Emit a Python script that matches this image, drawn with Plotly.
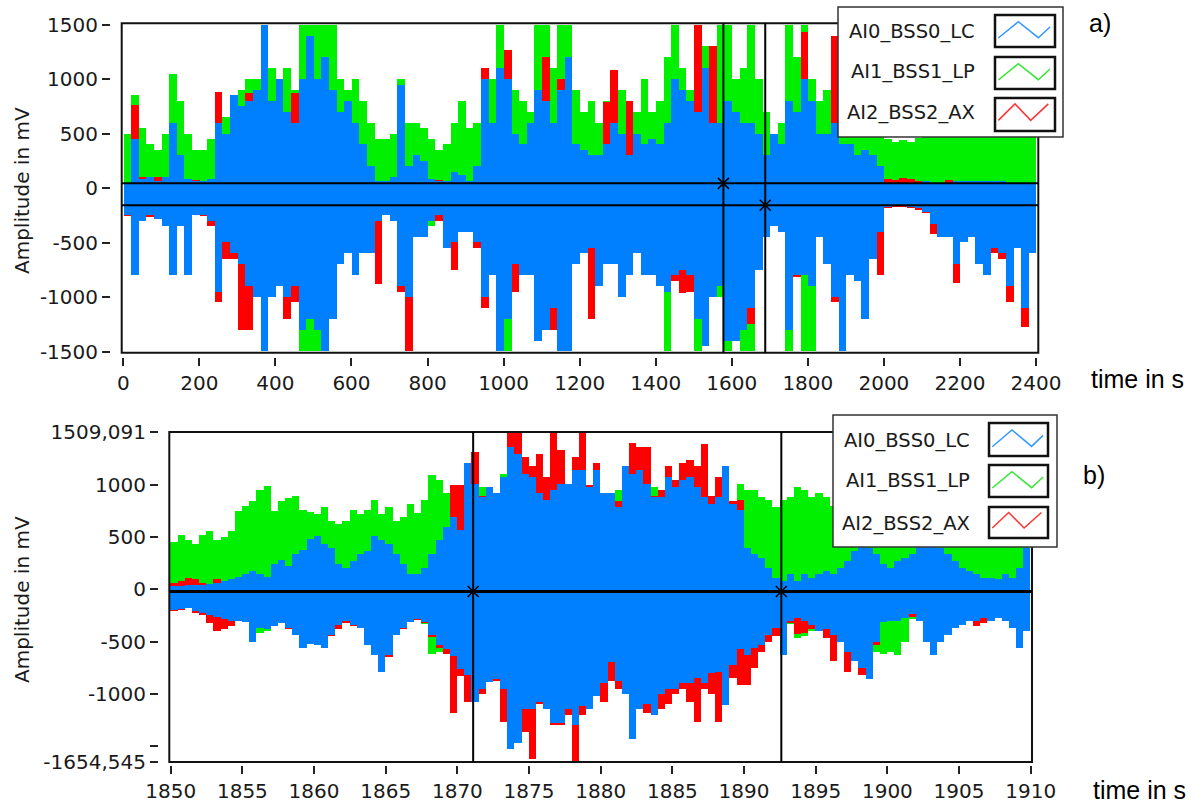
import plotly.graph_objects as go

W, H = 1195, 807

# ---------------- chart a) : 0..2400 s, envelope samples every 20 s ----------------
A_T0, A_STEP, A_N = 10, 20, 120
a_time = [A_T0 + A_STEP * i for i in range(A_N)]

a_green_up = [
    500, 850, 550, 400, 350, 500, 1050, 800, 500, 350,
    350, 450, 700, 650, 750, 900, 1000, 1000, 1500, 1100,
    1000, 1100, 900, 1500, 1500, 1500, 1500, 1500, 1000, 900,
    1000, 800, 600, 450, 450, 500, 1000, 600, 600, 550,
    450, 350, 400, 600, 800, 550, 600, 850, 1000, 1500,
    1200, 900, 800, 700, 1500, 1500, 1100, 1500, 1500, 900,
    700, 800, 600, 800, 1000, 900, 700, 700, 1000, 700,
    800, 1200, 1500, 1100, 900, 1500, 1300, 1200, 1500, 1500,
    1000, 1100, 1500, 1000, 700, 500, 600, 1500, 1200, 1500,
    1000, 800, 900, 600, 700, 700, 700, 700, 600, 600,
    450, 420, 440, 420, 460, 550, 600, 500, 600, 600,
    600, 700, 600, 500, 600, 600, 500, 500, 600, 500,
]
a_blue_up = [
    50, 450, 80, 100, 60, 100, 600, 300, 80, 60,
    60, 80, 600, 500, 850, 750, 800, 900, 1500, 800,
    1000, 700, 600, 1000, 1400, 1000, 1200, 900, 700, 800,
    600, 400, 200, 60, 60, 100, 950, 200, 300, 250,
    80, 60, 60, 150, 120, 60, 200, 1000, 600, 1100,
    1000, 500, 400, 600, 900, 800, 600, 900, 1200, 400,
    350, 300, 300, 400, 600, 500, 300, 500, 400, 450,
    400, 600, 1000, 900, 800, 700, 1100, 600, 600, 800,
    700, 600, 600, 500, 300, 500, 400, 800, 700, 1000,
    800, 500, 500, 600, 400, 400, 300, 350, 300, 200,
    50, 50, 50, 50, 50, 60, 50, 50, 50, 60,
    60, 60, 60, 60, 60, 60, 50, 50, 50, 50,
]
a_red_up = [
    40, 760, 100, 100, 100, 60, 60, 60, 70, 70,
    50, 60, 880, 400, 600, 500, 870, 600, 800, 600,
    800, 600, 870, 800, 900, 900, 800, 700, 600, 600,
    500, 300, 150, 50, 50, 50, 500, 150, 150, 70,
    70, 70, 50, 100, 100, 50, 150, 1100, 500, 900,
    1265, 450, 350, 500, 800, 1200, 600, 1000, 900, 350,
    300, 250, 250, 790, 1080, 450, 800, 450, 350, 400,
    350, 500, 900, 800, 700, 1500, 1000, 1300, 500, 700,
    600, 500, 500, 400, 250, 400, 300, 700, 600, 1430,
    700, 400, 400, 1400, 300, 250, 200, 200, 150, 100,
    80, 70, 90, 80, 60, 40, 40, 40, 70, 40,
    40, 40, 40, 40, 40, 40, 40, 40, 40, 40,
]
a_blue_lo = [
    -250, -800, -300, -250, -280, -350, -800, -350, -800, -250,
    -250, -300, -950, -500, -600, -700, -900, -1000, -1500, -1000,
    -900, -1000, -900, -1300, -1200, -1300, -1500, -1200, -700, -600,
    -800, -600, -600, -300, -250, -300, -900, -1000, -450, -450,
    -300, -250, -550, -500, -400, -400, -500, -1000, -800, -1500,
    -1200, -700, -800, -800, -1400, -1300, -1100, -1500, -1500, -700,
    -600, -550, -900, -700, -700, -1000, -800, -600, -800, -800,
    -900, -950, -800, -750, -800, -1200, -1450, -1000, -900, -1400,
    -1400, -1300, -1100, -750, -450, -350, -400, -1300, -800, -800,
    -900, -450, -700, -1000, -1500, -800, -850, -1200, -650, -400,
    -170, -160, -160, -170, -180, -220, -330, -450, -450, -700,
    -500, -450, -700, -800, -550, -600, -900, -550, -1100, -600,
]
a_green_lo = [
    -250, -350, -250, -230, -230, -300, -500, -300, -400, -220,
    -230, -280, -600, -400, -650, -700, -900, -900, -1200, -900,
    -800, -800, -800, -1500, -1500, -1500, -1500, -1000, -700, -600,
    -700, -600, -600, -300, -230, -300, -500, -500, -400, -400,
    -350, -250, -300, -300, -300, -300, -450, -800, -800, -1500,
    -1500, -700, -700, -700, -1300, -1200, -1000, -1500, -1500, -600,
    -500, -500, -600, -700, -700, -900, -700, -500, -700, -600,
    -800, -1500, -800, -700, -750, -1500, -1200, -900, -1000, -1500,
    -1300, -1500, -1500, -700, -400, -330, -400, -1500, -800, -1500,
    -1500, -400, -500, -700, -1200, -700, -700, -700, -600, -350,
    -170, -160, -160, -170, -180, -220, -300, -400, -400, -600,
    -400, -400, -500, -500, -500, -500, -800, -500, -700, -500,
]
a_red_lo = [
    -260, -700, -300, -270, -280, -300, -800, -350, -300, -230,
    -260, -350, -1050, -650, -650, -1300, -1300, -800, -1000, -960,
    -900, -1200, -1050, -1000, -1100, -1000, -1500, -800, -600, -550,
    -700, -550, -500, -880, -250, -250, -950, -1500, -450, -450,
    -300, -300, -450, -750, -400, -400, -550, -1100, -800, -1100,
    -1000, -950, -550, -600, -1100, -900, -1300, -1300, -900, -600,
    -600, -1200, -700, -700, -650, -700, -800, -600, -800, -600,
    -850, -900, -850, -960, -950, -900, -1300, -950, -850, -1000,
    -1100, -1000, -1250, -700, -420, -340, -380, -1000, -820, -800,
    -900, -450, -650, -1050, -1200, -750, -800, -800, -650, -800,
    -180, -170, -170, -180, -200, -230, -420, -450, -450, -870,
    -480, -450, -650, -700, -600, -650, -1050, -550, -1280, -550,
]

# ---------------- chart b) : 1850..1910 s, envelope samples every 0.5 s ----------------
B_T0, B_STEP, B_N = 1850.25, 0.5, 120
b_time = [B_T0 + B_STEP * i for i in range(B_N)]

b_green_up = [
    450, 520, 470, 440, 520, 560, 470, 500, 560, 750,
    800, 850, 950, 990, 750, 850, 880, 900, 760, 740,
    725, 790, 660, 630, 660, 760, 725, 760, 855, 725,
    790, 660, 690, 820, 730, 860, 1100, 1050, 920, 890,
    920, 920, 950, 985, 985, 920, 1110, 1275, 1240, 1145,
    1050, 985, 890, 890, 985, 985, 1145, 1110, 920, 1180,
    890, 890, 950, 1050, 1015, 985, 1015, 985, 890, 1110,
    950, 855, 985, 890, 890, 890, 855, 920, 820, 1015,
    950, 950, 890, 855, 790, 855, 890, 985, 950, 890,
    920, 890, 800, 750, 700, 700, 750, 700, 650, 700,
    700, 650, 650, 600, 650, 700, 800, 750, 700, 650,
    600, 600, 550, 550, 600, 550, 500, 550, 500, 500,
]
b_blue_up = [
    30, 30, 40, 40, 40, 50, 60, 80, 100, 120,
    150, 180, 150, 120, 240, 280, 220, 340, 380, 480,
    515, 435, 400, 240, 210, 275, 340, 370, 515, 470,
    440, 340, 240, 150, 150, 210, 340, 470, 600, 690,
    565, 1210, 1015, 890, 985, 920, 1080, 1370, 1300, 1110,
    1080, 920, 855, 950, 1015, 1015, 1145, 1145, 985, 1145,
    920, 920, 790, 1180, 1110, 1145, 1015, 890, 890, 1080,
    985, 1050, 1080, 985, 890, 820, 890, 1180, 820, 760,
    400, 340, 305, 210, 110, 80, 145, 80, 145, 110,
    145, 180, 145, 210, 275, 370, 435, 400, 340, 240,
    210, 275, 305, 340, 435, 435, 470, 400, 340, 275,
    210, 180, 145, 110, 110, 100, 145, 110, 210, 400,
]
b_red_up = [
    60, 80, 110, 100, 60, 40, 100, 40, 40, 40,
    100, 130, 100, 80, 200, 230, 180, 300, 330, 420,
    450, 400, 350, 200, 180, 230, 300, 330, 450, 420,
    400, 300, 200, 130, 130, 180, 300, 420, 550, 1000,
    1000, 900, 1320, 900, 850, 850, 950, 1509, 1509, 1270,
    1180, 1300, 1080, 1509, 1340, 1000, 1270, 1509, 1000, 1210,
    920, 890, 850, 1000, 1400, 1370, 1370, 900, 950, 1180,
    1050, 1210, 1240, 1180, 1390, 900, 1080, 1000, 850, 860,
    350, 300, 250, 180, 80, 60, 100, 60, 100, 80,
    100, 130, 100, 160, 220, 320, 380, 350, 290, 190,
    160, 220, 250, 290, 380, 380, 420, 350, 290, 220,
    160, 130, 100, 80, 80, 70, 100, 80, 160, 350,
]
b_blue_lo = [
    -200, -190, -180, -210, -230, -250, -260, -280, -300, -300,
    -310, -500, -370, -380, -350, -320, -370, -440, -560, -520,
    -530, -565, -435, -340, -305, -340, -370, -530, -630, -790,
    -630, -440, -370, -310, -280, -310, -440, -530, -570, -640,
    -760, -820, -1080, -950, -885, -855, -950, -1530, -1470, -1145,
    -1150, -1080, -1150, -1280, -1280, -1150, -1300, -1120, -1150, -1020,
    -900, -700, -880, -1000, -1430, -1150, -1100, -1200, -1000, -950,
    -950, -900, -900, -850, -900, -800, -790, -1110, -720, -570,
    -630, -565, -530, -435, -370, -630, -305, -275, -305, -340,
    -400, -380, -440, -500, -600, -690, -750, -855, -500, -310,
    -305, -305, -275, -240, -305, -500, -630, -500, -435, -370,
    -340, -305, -305, -275, -305, -275, -305, -370, -565, -400,
]
b_green_lo = [
    -200, -190, -180, -210, -230, -250, -260, -280, -300, -300,
    -300, -380, -420, -400, -330, -300, -320, -380, -420, -420,
    -450, -480, -420, -330, -300, -330, -350, -460, -560, -650,
    -600, -420, -360, -300, -280, -330, -620, -600, -520, -600,
    -750, -800, -1000, -900, -850, -850, -900, -1000, -1000, -1000,
    -1000, -1000, -1000, -1100, -1100, -1000, -1100, -1000, -1000, -900,
    -850, -700, -850, -900, -900, -900, -950, -950, -900, -900,
    -900, -850, -850, -820, -850, -780, -750, -800, -700, -550,
    -600, -550, -500, -420, -360, -350, -330, -470, -450, -400,
    -400, -370, -370, -370, -440, -370, -370, -370, -600, -620,
    -600, -630, -500, -280, -300, -450, -550, -450, -400, -340,
    -320, -290, -290, -260, -290, -260, -290, -350, -500, -380,
]
b_red_lo = [
    -210, -200, -180, -230, -250, -320, -400, -380, -350, -300,
    -300, -350, -350, -360, -330, -300, -380, -420, -450, -450,
    -500, -520, -450, -380, -320, -350, -360, -480, -560, -700,
    -650, -420, -380, -310, -290, -320, -460, -560, -620, -1180,
    -830, -1080, -950, -1000, -880, -880, -1270, -1340, -1300, -1370,
    -1630, -1100, -1150, -1300, -1300, -1200, -1650, -1200, -1100, -900,
    -1080, -880, -950, -950, -950, -1000, -1180, -1200, -1150, -1100,
    -1000, -950, -1080, -1270, -950, -1000, -1270, -830, -850, -920,
    -920, -750, -600, -500, -450, -380, -320, -430, -420, -380,
    -360, -470, -690, -430, -790, -630, -820, -630, -530, -300,
    -300, -300, -270, -260, -300, -450, -550, -450, -400, -340,
    -330, -300, -350, -320, -300, -270, -300, -360, -520, -390,
]

# cursors
cursor_a_x = [1578, 1688]
cursor_a_y = [46, -155]
cursor_b_x = [1871.1, 1892.6]
cursor_b_y = [-20, -20]

series_names = ["AI0_BSS0_LC", "AI1_BSS1_LP", "AI2_BSS2_AX"]
C_BLUE, C_GREEN, C_RED = "#0080FF", "#00F000", "#FF0000"

a_xticks = list(range(0, 2401, 200))
a_yticks = [-1500, -1000, -500, 0, 500, 1000, 1500]
b_xticks = list(range(1850, 1911, 5))
b_yticks = [-1654.545, -1500, -1000, -500, 0, 500, 1000, 1509.091]
b_yticktext = ["-1654,545", "", "-1000", "-500", "0", "500", "1000", "1509,091"]

TXT = "#1a1a1a"
TICKFONT = dict(family="DejaVu Sans", size=20, color=TXT)


def PX(x):
    return x / W


def PY(y):
    return 1 - y / H


fig = go.Figure()


def add_env(t, lo, up, color, step, xa, ya):
    fig.add_trace(go.Bar(
        x=t, y=[u - l for u, l in zip(up, lo)], base=lo, width=step,
        marker=dict(color=color, line=dict(width=0)), showlegend=False,
        hoverinfo="skip", xaxis=xa, yaxis=ya))


# draw order: green (bottom), red, blue (top)
add_env(a_time, a_green_lo, a_green_up, C_GREEN, A_STEP, "x", "y")
add_env(a_time, a_red_lo, a_red_up, C_RED, A_STEP, "x", "y")
add_env(a_time, a_blue_lo, a_blue_up, C_BLUE, A_STEP, "x", "y")
add_env(b_time, b_green_lo, b_green_up, C_GREEN, B_STEP, "x2", "y2")
add_env(b_time, b_red_lo, b_red_up, C_RED, B_STEP, "x2", "y2")
add_env(b_time, b_blue_lo, b_blue_up, C_BLUE, B_STEP, "x2", "y2")

mk = dict(symbol="x-thin", size=11, color="black", line=dict(width=1.6, color="black"))
fig.add_trace(go.Scatter(x=cursor_a_x, y=cursor_a_y, mode="markers", marker=mk,
                         showlegend=False, xaxis="x", yaxis="y", cliponaxis=False))
fig.add_trace(go.Scatter(x=cursor_b_x, y=cursor_b_y, mode="markers", marker=mk,
                         showlegend=False, xaxis="x2", yaxis="y2", cliponaxis=False))

axis_common = dict(showgrid=False, zeroline=False, showline=False, ticks="outside",
                   ticklen=8, tickwidth=1.5, tickcolor="#222", tickfont=TICKFONT,
                   anchor="free", fixedrange=True, automargin=False)

fig.update_layout(
    width=W, height=H, autosize=False,
    margin=dict(l=0, r=0, t=0, b=0, pad=0),
    paper_bgcolor="white", plot_bgcolor="white",
    barmode="overlay", bargap=0,
    showlegend=False,
    xaxis=dict(domain=[PX(121.7), PX(1038.3)], range=[-4.2, 2406],
               tickvals=a_xticks, ticktext=[str(v) for v in a_xticks],
               position=PY(357), **axis_common),
    yaxis=dict(domain=[PY(352.7), PY(23.3)], range=[-1509, 1515],
               tickvals=a_yticks, ticktext=[str(v) for v in a_yticks],
               position=PX(110), **axis_common),
    xaxis2=dict(domain=[PX(169.3), PX(1032)], range=[1849.9, 1910.09],
                tickvals=b_xticks, ticktext=[str(v) for v in b_xticks],
                position=PY(765), **axis_common),
    yaxis2=dict(domain=[PY(762), PY(432)], range=[-1654.545, 1509.091],
                tickvals=b_yticks, ticktext=b_yticktext,
                position=PX(158), **axis_common),
)

shapes = []
# plot frames
for xr, yr in (("x domain", "y domain"), ("x2 domain", "y2 domain")):
    shapes.append(dict(type="rect", xref=xr, yref=yr, x0=0, x1=1, y0=0, y1=1,
                       line=dict(color="#111", width=2), layer="above"))
# cursor lines
for cx in cursor_a_x:
    shapes.append(dict(type="line", xref="x", yref="y domain", x0=cx, x1=cx, y0=0, y1=1,
                       line=dict(color="black", width=2), layer="above"))
for cy in cursor_a_y:
    shapes.append(dict(type="line", xref="x domain", yref="y", x0=0, x1=1, y0=cy, y1=cy,
                       line=dict(color="black", width=2), layer="above"))
for cx in cursor_b_x:
    shapes.append(dict(type="line", xref="x2", yref="y2 domain", x0=cx, x1=cx, y0=0, y1=1,
                       line=dict(color="black", width=2), layer="above"))
for cy in cursor_b_y:
    shapes.append(dict(type="line", xref="x2 domain", yref="y2", x0=0, x1=1, y0=cy, y1=cy,
                       line=dict(color="black", width=3), layer="above"))

annotations = []


def legend_box(bx0, by0, bx1, by1, text_right, text_ys, sw_x0, sw_x1, sw_boxes):
    shapes.append(dict(type="rect", xref="paper", yref="paper",
                       x0=PX(bx0), x1=PX(bx1), y0=PY(by1), y1=PY(by0),
                       fillcolor="white", line=dict(color="#333", width=1.5), layer="above"))
    zig_bg = [(3.3, 23), (23.3, 6.7), (43.3, 22.7), (55, 12)]
    zig_r = [(3.3, 21.7), (20, 5.7), (35.7, 21.7), (53.3, 5.7)]
    cols = ["#3399FF", "#33E833", "#FF3333"]
    for k, (name, ty, (sy0, sy1)) in enumerate(zip(series_names, text_ys, sw_boxes)):
        annotations.append(dict(text=name, x=PX(text_right), y=PY(ty), xref="paper",
                                yref="paper", xanchor="right", yanchor="middle",
                                showarrow=False, font=dict(family="DejaVu Sans", size=19.5,
                                                           color=TXT)))
        shapes.append(dict(type="rect", xref="paper", yref="paper",
                           x0=PX(sw_x0), x1=PX(sw_x1), y0=PY(sy1), y1=PY(sy0),
                           fillcolor="white", line=dict(color="#111", width=2.5),
                           layer="above"))
        pts = zig_r if k == 2 else zig_bg
        sx = (sw_x1 - sw_x0) / 60.0
        sy = (sy1 - sy0) / 32.0
        path = "M " + " L ".join(f"{PX(sw_x0 + px_ * sx):.5f},{PY(sy0 + py_ * sy):.5f}"
                                 for px_, py_ in pts)
        shapes.append(dict(type="path", xref="paper", yref="paper", path=path,
                           line=dict(color=cols[k], width=1.5), layer="above"))


legend_box(838, 7, 1063, 137, 977, [32, 72, 113], 995, 1055,
           [(15, 47), (57, 89), (98, 131)])
legend_box(833, 415, 1057, 547, 972, [440, 481, 523], 989, 1048,
           [(423, 456), (465, 497), (507, 538)])

for (x, y) in ((22, 191), (22, 600)):
    annotations.append(dict(text="Amplitude in mV", x=PX(x), y=PY(y), xref="paper",
                            yref="paper", textangle=-90, showarrow=False,
                            xanchor="center", yanchor="middle",
                            font=dict(family="DejaVu Sans", size=20, color=TXT)))
for (x, y) in ((1137, 379), (1139, 790)):
    annotations.append(dict(text="time in s", x=PX(x), y=PY(y), xref="paper", yref="paper",
                            showarrow=False, xanchor="center", yanchor="middle",
                            font=dict(family="Liberation Sans", size=25, color="black")))
for (txt, x, y) in (("a)", 1100, 23), ("b)", 1094, 475)):
    annotations.append(dict(text=txt, x=PX(x), y=PY(y), xref="paper", yref="paper",
                            showarrow=False, xanchor="center", yanchor="middle",
                            font=dict(family="Liberation Sans", size=25, color="black")))

fig.update_layout(shapes=shapes, annotations=annotations)

fig.write_html("out.html", config={"displayModeBar": False},
               post_script="document.body.style.margin='0';")
